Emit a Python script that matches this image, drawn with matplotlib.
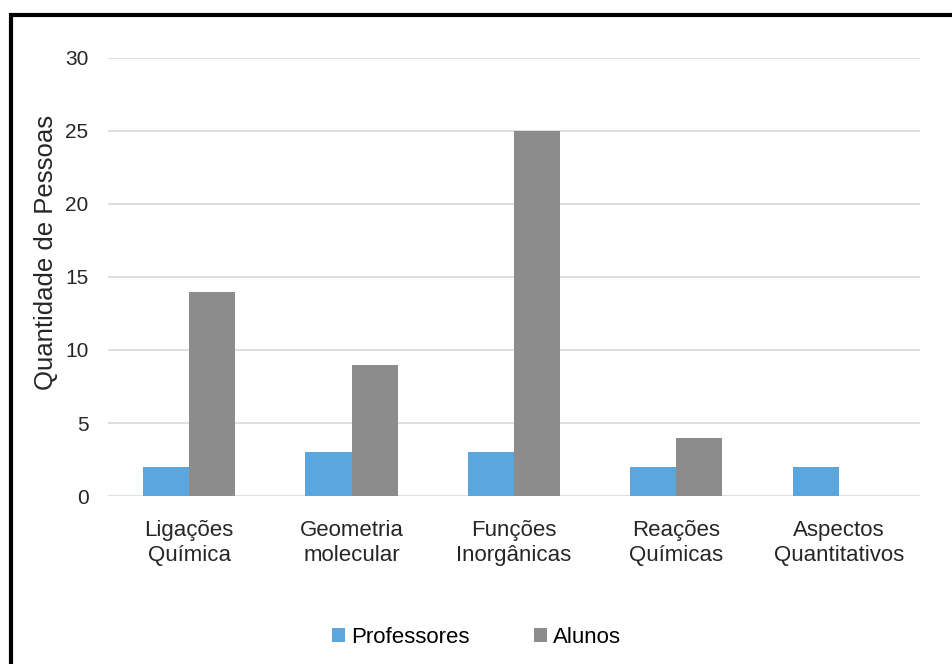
import numpy as np
import matplotlib.pyplot as plt
from matplotlib.patches import Rectangle

plt.rcParams['font.family'] = ['Liberation Sans', 'DejaVu Sans']

categorias = ['Ligações\nQuímica', 'Geometria\nmolecular', 'Funções\nInorgânicas',
              'Reações\nQuímicas', 'Aspectos\nQuantitativos']
professores = [2, 3, 3, 2, 2]
alunos = [14, 9, 25, 4, 0]

fig = plt.figure(figsize=(9.53, 6.64), dpi=100)
ax = fig.add_axes([0.1133, 0.253, 0.852, 0.6597])

x = np.arange(len(categorias))
w = 0.284
ax.bar(x - w / 2, professores, w, color='#5ba7dd', label='Professores', zorder=3)
ax.bar(x + w / 2, alunos, w, color='#8c8c8c', label='Alunos', zorder=3)

ax.set_xlim(-0.5, len(categorias) - 0.5)
ax.set_ylim(0, 30)
ax.set_yticks(range(0, 31, 5))
ax.set_xticks(x)
ax.set_xticklabels(categorias, fontsize=16, color='#262626', linespacing=1.25)
ax.tick_params(axis='y', labelsize=15, colors='#262626', length=0, pad=14)
ax.tick_params(axis='x', length=0, pad=17)
ax.grid(axis='y', color='#d9d9d9', linewidth=1.2, zorder=0)
for s in ax.spines.values():
    s.set_visible(False)
ax.set_ylabel('Quantidade de Pessoas', fontsize=18.5, color='#262626')
ax.yaxis.set_label_coords(-0.062, 0.557)

fig.legend(loc='center', bbox_to_anchor=(0.5, 0.04), ncol=2, frameon=False,
           fontsize=16, handlelength=0.6, handleheight=0.6, handletextpad=0.25,
           columnspacing=2.9)

# thick border (cropped on right and bottom)
fig.patches.append(Rectangle((0.0115, -0.1), 1.1, 1.1 - 0.0226, transform=fig.transFigure,
                             fill=False, edgecolor='black', linewidth=3, clip_on=False))

fig.savefig('out.png', dpi=100)
